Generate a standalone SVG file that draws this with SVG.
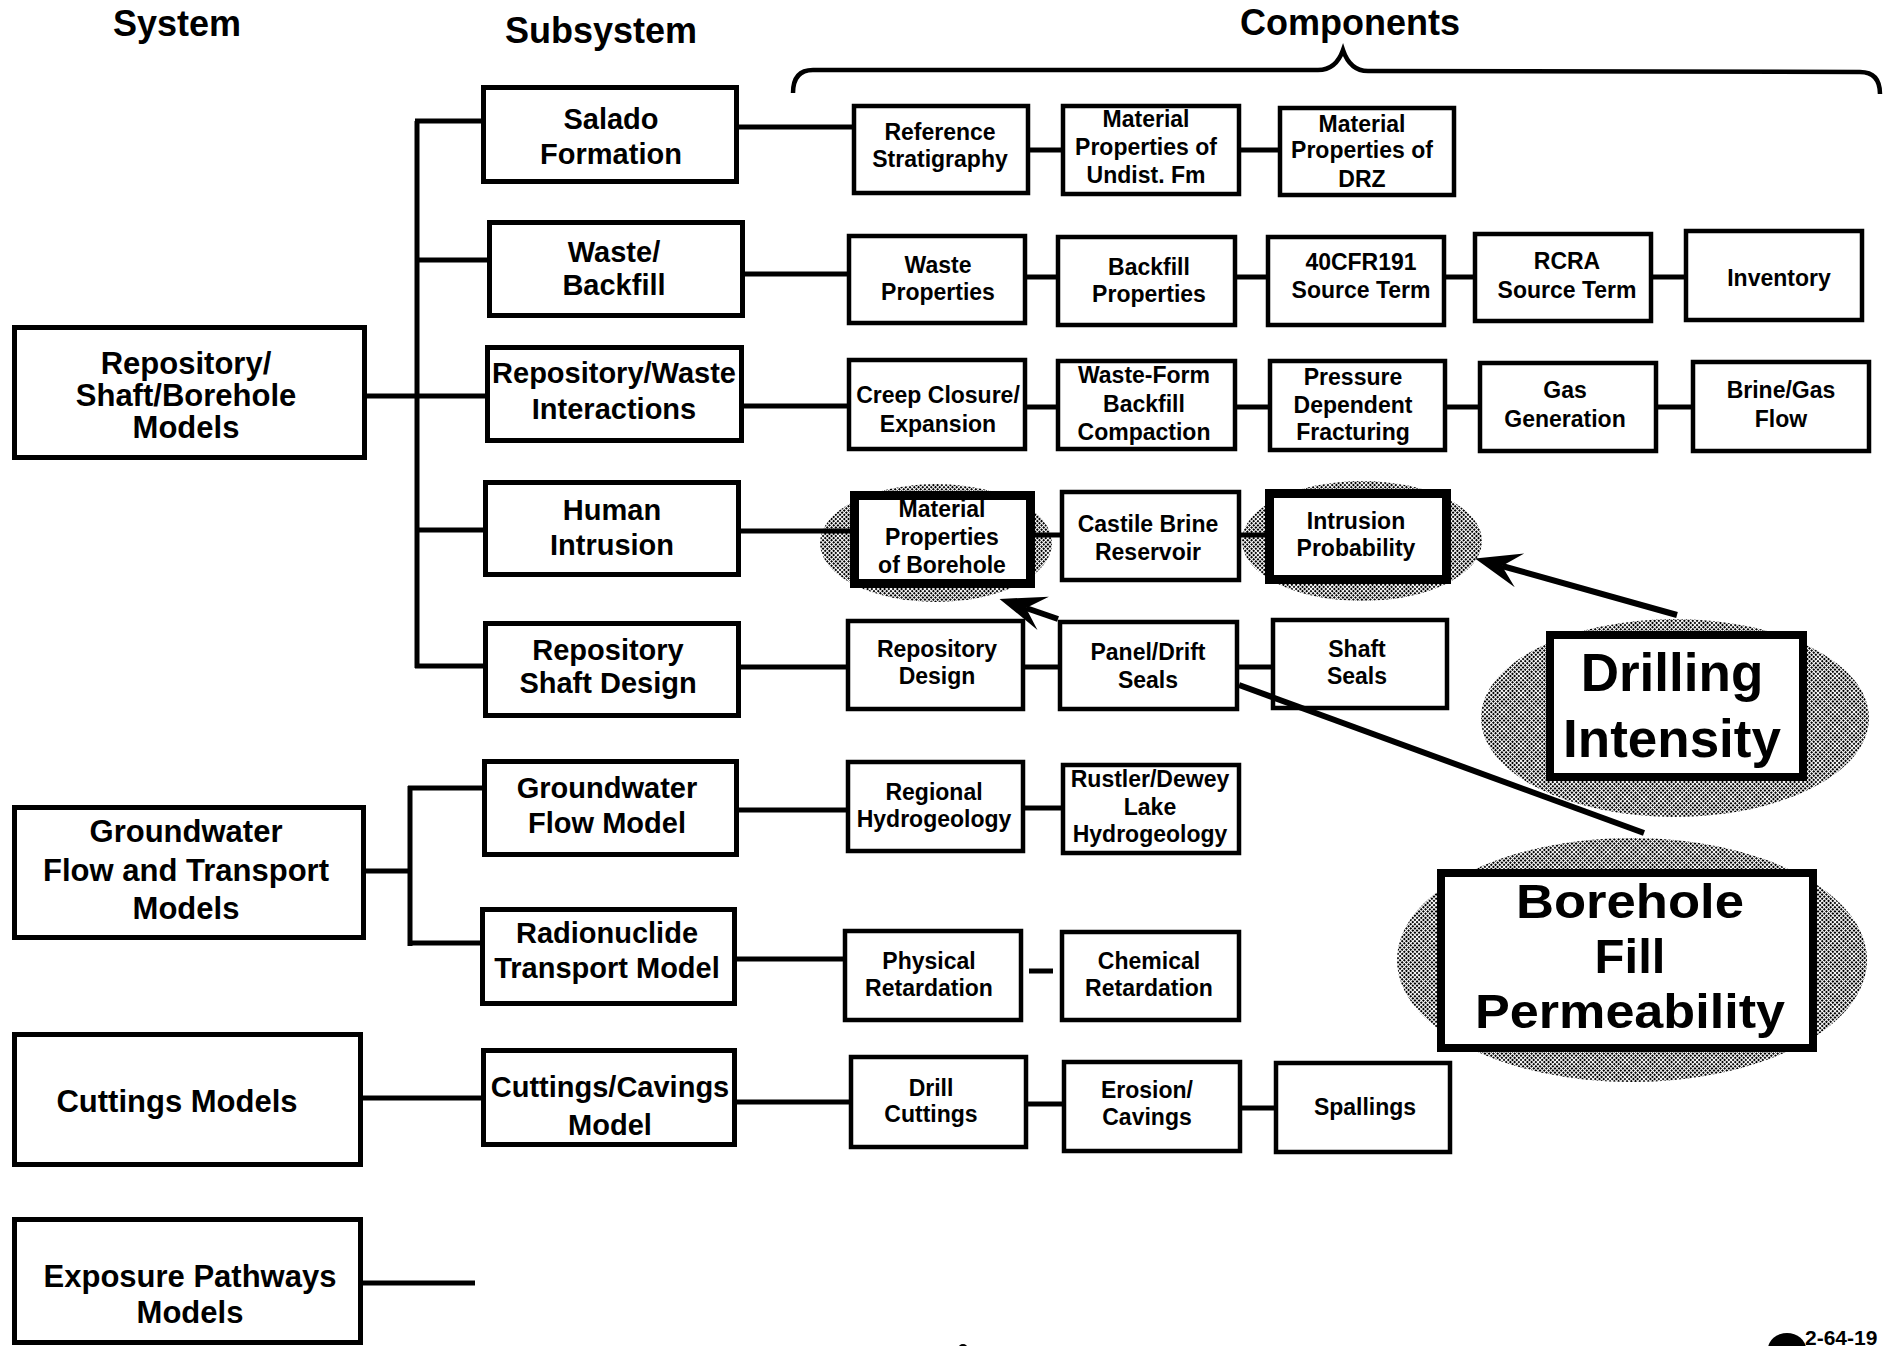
<svg xmlns="http://www.w3.org/2000/svg" width="1885" height="1346" viewBox="0 0 1885 1346">
  <style>
    .box { fill: #fff; stroke: #000; stroke-width: 5; }
    .cbox { fill: #fff; stroke: #000; stroke-width: 4.5; }
    .hbox { fill: #fff; stroke: #000; stroke-width: 9; }
    .bbox { fill: #fff; stroke: #000; stroke-width: 8; }
    .wire { stroke: #000; stroke-width: 5; fill: none; }
    .callout { stroke: #000; stroke-width: 6; fill: none; }
    .glow { fill: url(#halftone); }
    text { font-family: "Liberation Sans", Arial, Helvetica, sans-serif; font-weight: bold; fill: #000; text-anchor: middle; }
    .hd { font-size: 36px; }
    .sys { font-size: 31px; }
    .sub { font-size: 29px; }
    .cmp { font-size: 23px; }
    .big { font-size: 53px; }
    .big2 { font-size: 49px; }
  </style>
  <defs>
    <!-- halftone screen used for the highlight halos -->
    <pattern id="halftone" width="3" height="3" patternUnits="userSpaceOnUse" patternTransform="rotate(45)">
      <rect width="3" height="3" fill="#fff"/>
      <rect width="2" height="2" fill="#000"/>
    </pattern>
    <marker id="barb" markerUnits="userSpaceOnUse" markerWidth="60" markerHeight="44" refX="0" refY="0" viewBox="-22 -22 60 44" orient="auto" overflow="visible">
      <path d="M28,0 L-18,-17 L0,0 L-18,18 Z" fill="#000"/>
    </marker>
  </defs>

  <rect width="1885" height="1346" fill="#fff"/>

  <!-- column headings -->
  <g id="headings">
    <text class="hd" x="177" y="36">System</text>
    <text class="hd" x="601" y="43">Subsystem</text>
    <text class="hd" x="1350" y="35">Components</text>
    <path d="M793,93 Q793,70 813,70 L1318,70 Q1336,70 1343,50 Q1350,71 1368,71 L1860,72 Q1880,72 1880,94" fill="none" stroke="#000" stroke-width="4.5"/>
  </g>

  <!-- shaded highlight halos -->
  <g id="halos">
    <ellipse class="glow" cx="936" cy="543" rx="116" ry="59"/>
    <ellipse class="glow" cx="1362" cy="541" rx="120" ry="60"/>
    <ellipse class="glow" cx="1675" cy="718" rx="194" ry="99"/>
    <ellipse class="glow" cx="1632" cy="960" rx="235" ry="122"/>
  </g>

  <!-- tree connectors -->
  <g id="connectors" class="wire">
    <!-- repository bus -->
    <path d="M417,121 V668"/>
    <path d="M415,121 H484"/>
    <path d="M415,260 H490"/>
    <path d="M365,396 H488"/>
    <path d="M415,530 H486"/>
    <path d="M415,666 H486"/>
    <!-- groundwater bus -->
    <path d="M410,786 V946"/>
    <path d="M408,788 H485"/>
    <path d="M408,943 H483"/>
    <path d="M364,871 H412"/>
    <!-- cuttings / exposure -->
    <path d="M361,1098 H484"/>
    <path d="M361,1283 H475"/>
    <!-- subsystem to first component -->
    <path d="M737,127 H854"/>
    <path d="M743,274 H849"/>
    <path d="M742,406 H847"/>
    <path d="M739,531 H852"/>
    <path d="M739,667 H848"/>
    <path d="M737,810 H848"/>
    <path d="M735,959 H845"/>
    <path d="M735,1102 H851"/>
    <!-- component chains -->
    <path d="M1028,150 H1063 M1239,150 H1280"/>
    <path d="M1025,277 H1058 M1235,277 H1268 M1444,277 H1475 M1651,277 H1686"/>
    <path d="M1025,407 H1058 M1235,407 H1270 M1445,407 H1480 M1656,407 H1693"/>
    <path d="M1033,535 H1062 M1239,535 H1267"/>
    <path d="M1023,667 H1060 M1237,667 H1273"/>
    <path d="M1023,808 H1063"/>
    <path d="M1029,971 H1053"/>
    <path d="M1026,1104 H1064 M1240,1108 H1276"/>
  </g>

  <!-- system level -->
  <g id="sys-repository">
    <rect class="box" x="14.5" y="327.5" width="350" height="130"/>
    <text class="sys" x="186" y="374">Repository/</text>
    <text class="sys" x="186" y="406">Shaft/Borehole</text>
    <text class="sys" x="186" y="438">Models</text>
  </g>
  <g id="sys-groundwater">
    <rect class="box" x="14.5" y="807.5" width="349" height="130"/>
    <text class="sys" x="186" y="842">Groundwater</text>
    <text class="sys" x="186" y="881">Flow and Transport</text>
    <text class="sys" x="186" y="919">Models</text>
  </g>
  <g id="sys-cuttings">
    <rect class="box" x="14.5" y="1034.5" width="346" height="130"/>
    <text class="sys" x="177" y="1112">Cuttings Models</text>
  </g>
  <g id="sys-exposure">
    <rect class="box" x="14.5" y="1219.5" width="346" height="123"/>
    <text class="sys" x="190" y="1287">Exposure Pathways</text>
    <text class="sys" x="190" y="1323">Models</text>
  </g>

  <!-- subsystem level -->
  <g id="sub-salado">
    <rect class="box" x="483.5" y="87.5" width="253" height="94"/>
    <text class="sub" x="611" y="129">Salado</text>
    <text class="sub" x="611" y="164">Formation</text>
  </g>
  <g id="sub-waste-backfill">
    <rect class="box" x="489.5" y="222.5" width="253" height="93"/>
    <text class="sub" x="614" y="262">Waste/</text>
    <text class="sub" x="614" y="295">Backfill</text>
  </g>
  <g id="sub-interactions">
    <rect class="box" x="487.5" y="347.5" width="254" height="93"/>
    <text class="sub" x="614" y="383">Repository/Waste</text>
    <text class="sub" x="614" y="419">Interactions</text>
  </g>
  <g id="sub-human-intrusion">
    <rect class="box" x="485.5" y="482.5" width="253" height="92"/>
    <text class="sub" x="612" y="520">Human</text>
    <text class="sub" x="612" y="555">Intrusion</text>
  </g>
  <g id="sub-shaft-design">
    <rect class="box" x="485.5" y="623.5" width="253" height="92"/>
    <text class="sub" x="608" y="660">Repository</text>
    <text class="sub" x="608" y="693">Shaft Design</text>
  </g>
  <g id="sub-gw-flow">
    <rect class="box" x="484.5" y="761.5" width="252" height="93"/>
    <text class="sub" x="607" y="798">Groundwater</text>
    <text class="sub" x="607" y="833">Flow Model</text>
  </g>
  <g id="sub-radionuclide">
    <rect class="box" x="482.5" y="909.5" width="252" height="94"/>
    <text class="sub" x="607" y="943">Radionuclide</text>
    <text class="sub" x="607" y="978">Transport Model</text>
  </g>
  <g id="sub-cuttings-cavings">
    <rect class="box" x="483.5" y="1050.5" width="251" height="94"/>
    <text class="sub" x="610" y="1097">Cuttings/Cavings</text>
    <text class="sub" x="610" y="1135">Model</text>
  </g>

  <!-- components: Salado row -->
  <g id="c-ref-strat">
    <rect class="cbox" x="854" y="106" width="174" height="87"/>
    <text class="cmp" x="940" y="140">Reference</text>
    <text class="cmp" x="940" y="167">Stratigraphy</text>
  </g>
  <g id="c-undist">
    <rect class="cbox" x="1063" y="106" width="176" height="88"/>
    <text class="cmp" x="1146" y="127">Material</text>
    <text class="cmp" x="1146" y="155">Properties of</text>
    <text class="cmp" x="1146" y="183">Undist. Fm</text>
  </g>
  <g id="c-drz">
    <rect class="cbox" x="1280" y="108" width="174" height="87"/>
    <text class="cmp" x="1362" y="132">Material</text>
    <text class="cmp" x="1362" y="158">Properties of</text>
    <text class="cmp" x="1362" y="187">DRZ</text>
  </g>

  <!-- components: waste/backfill row -->
  <g id="c-waste-props">
    <rect class="cbox" x="849" y="236" width="176" height="87"/>
    <text class="cmp" x="938" y="273">Waste</text>
    <text class="cmp" x="938" y="300">Properties</text>
  </g>
  <g id="c-backfill-props">
    <rect class="cbox" x="1058" y="237" width="177" height="88"/>
    <text class="cmp" x="1149" y="275">Backfill</text>
    <text class="cmp" x="1149" y="302">Properties</text>
  </g>
  <g id="c-40cfr191">
    <rect class="cbox" x="1268" y="237" width="176" height="88"/>
    <text class="cmp" x="1361" y="270">40CFR191</text>
    <text class="cmp" x="1361" y="298">Source Term</text>
  </g>
  <g id="c-rcra">
    <rect class="cbox" x="1475" y="234" width="176" height="87"/>
    <text class="cmp" x="1567" y="269">RCRA</text>
    <text class="cmp" x="1567" y="298">Source Term</text>
  </g>
  <g id="c-inventory">
    <rect class="cbox" x="1686" y="231" width="176" height="89"/>
    <text class="cmp" x="1779" y="286">Inventory</text>
  </g>

  <!-- components: interactions row -->
  <g id="c-creep">
    <rect class="cbox" x="849" y="360" width="176" height="89"/>
    <text class="cmp" x="938" y="403">Creep Closure/</text>
    <text class="cmp" x="938" y="432">Expansion</text>
  </g>
  <g id="c-compaction">
    <rect class="cbox" x="1058" y="361" width="177" height="88"/>
    <text class="cmp" x="1144" y="383">Waste-Form</text>
    <text class="cmp" x="1144" y="412">Backfill</text>
    <text class="cmp" x="1144" y="440">Compaction</text>
  </g>
  <g id="c-fracturing">
    <rect class="cbox" x="1270" y="361" width="175" height="89"/>
    <text class="cmp" x="1353" y="385">Pressure</text>
    <text class="cmp" x="1353" y="413">Dependent</text>
    <text class="cmp" x="1353" y="440">Fracturing</text>
  </g>
  <g id="c-gas-gen">
    <rect class="cbox" x="1480" y="363" width="176" height="88"/>
    <text class="cmp" x="1565" y="398">Gas</text>
    <text class="cmp" x="1565" y="427">Generation</text>
  </g>
  <g id="c-brine-gas">
    <rect class="cbox" x="1693" y="362" width="176" height="89"/>
    <text class="cmp" x="1781" y="398">Brine/Gas</text>
    <text class="cmp" x="1781" y="427">Flow</text>
  </g>

  <!-- components: human intrusion row -->
  <g id="c-borehole-props">
    <rect class="hbox" x="854.5" y="495.5" width="176" height="88"/>
    <text class="cmp" x="942" y="517">Material</text>
    <text class="cmp" x="942" y="545">Properties</text>
    <text class="cmp" x="942" y="573">of Borehole</text>
  </g>
  <g id="c-castile">
    <rect class="cbox" x="1062" y="492" width="177" height="88"/>
    <text class="cmp" x="1148" y="532">Castile Brine</text>
    <text class="cmp" x="1148" y="560">Reservoir</text>
  </g>
  <g id="c-intrusion-prob">
    <rect class="hbox" x="1269.5" y="493.5" width="177" height="86"/>
    <text class="cmp" x="1356" y="529">Intrusion</text>
    <text class="cmp" x="1356" y="556">Probability</text>
  </g>

  <!-- components: shaft design row -->
  <g id="c-repo-design">
    <rect class="cbox" x="848" y="621" width="175" height="88"/>
    <text class="cmp" x="937" y="657">Repository</text>
    <text class="cmp" x="937" y="684">Design</text>
  </g>
  <g id="c-panel-seals">
    <rect class="cbox" x="1060" y="622" width="177" height="87"/>
    <text class="cmp" x="1148" y="660">Panel/Drift</text>
    <text class="cmp" x="1148" y="688">Seals</text>
  </g>
  <g id="c-shaft-seals">
    <rect class="cbox" x="1273" y="620" width="174" height="88"/>
    <text class="cmp" x="1357" y="657">Shaft</text>
    <text class="cmp" x="1357" y="684">Seals</text>
  </g>

  <!-- components: groundwater rows -->
  <g id="c-regional">
    <rect class="cbox" x="848" y="762" width="175" height="89"/>
    <text class="cmp" x="934" y="800">Regional</text>
    <text class="cmp" x="934" y="827">Hydrogeology</text>
  </g>
  <g id="c-rustler">
    <rect class="cbox" x="1063" y="765" width="176" height="88"/>
    <text class="cmp" x="1150" y="787">Rustler/Dewey</text>
    <text class="cmp" x="1150" y="815">Lake</text>
    <text class="cmp" x="1150" y="842">Hydrogeology</text>
  </g>
  <g id="c-physical">
    <rect class="cbox" x="845" y="931" width="176" height="89"/>
    <text class="cmp" x="929" y="969">Physical</text>
    <text class="cmp" x="929" y="996">Retardation</text>
  </g>
  <g id="c-chemical">
    <rect class="cbox" x="1062" y="932" width="177" height="88"/>
    <text class="cmp" x="1149" y="969">Chemical</text>
    <text class="cmp" x="1149" y="996">Retardation</text>
  </g>

  <!-- components: cuttings row -->
  <g id="c-drill-cuttings">
    <rect class="cbox" x="851" y="1057" width="175" height="90"/>
    <text class="cmp" x="931" y="1096">Drill</text>
    <text class="cmp" x="931" y="1122">Cuttings</text>
  </g>
  <g id="c-erosion">
    <rect class="cbox" x="1064" y="1062" width="176" height="89"/>
    <text class="cmp" x="1147" y="1098">Erosion/</text>
    <text class="cmp" x="1147" y="1125">Cavings</text>
  </g>
  <g id="c-spallings">
    <rect class="cbox" x="1276" y="1063" width="174" height="89"/>
    <text class="cmp" x="1365" y="1115">Spallings</text>
  </g>

  <!-- parameter callouts -->
  <g id="p-drilling">
    <rect class="bbox" x="1550" y="635" width="253" height="142"/>
    <text class="big" x="1672" y="691">Drilling</text>
    <text class="big" x="1672" y="757">Intensity</text>
  </g>
  <g id="p-borehole-fill">
    <rect class="bbox" x="1441" y="873" width="372" height="175"/>
    <text class="big2" x="1630" y="918" textLength="228" lengthAdjust="spacingAndGlyphs">Borehole</text>
    <text class="big2" x="1630" y="973">Fill</text>
    <text class="big2" x="1630" y="1028" textLength="310" lengthAdjust="spacingAndGlyphs">Permeability</text>
  </g>

  <!-- callout arrows -->
  <g id="callout-arrows" class="callout">
    <path d="M1677,615 L1502,566" marker-end="url(#barb)"/>
    <path d="M1644,833 L1239,685"/>
    <path d="M1058,619 L1026,608" marker-end="url(#barb)"/>
  </g>

  <!-- drawing number -->
  <g id="drawing-id">
    <ellipse cx="1787" cy="1349" rx="19" ry="16" fill="#000"/>
    <text x="1805" y="1345" style="font-size:21px;text-anchor:start">2-64-19</text>
    <ellipse cx="963" cy="1349" rx="5" ry="5" fill="#000"/>
  </g>
</svg>
